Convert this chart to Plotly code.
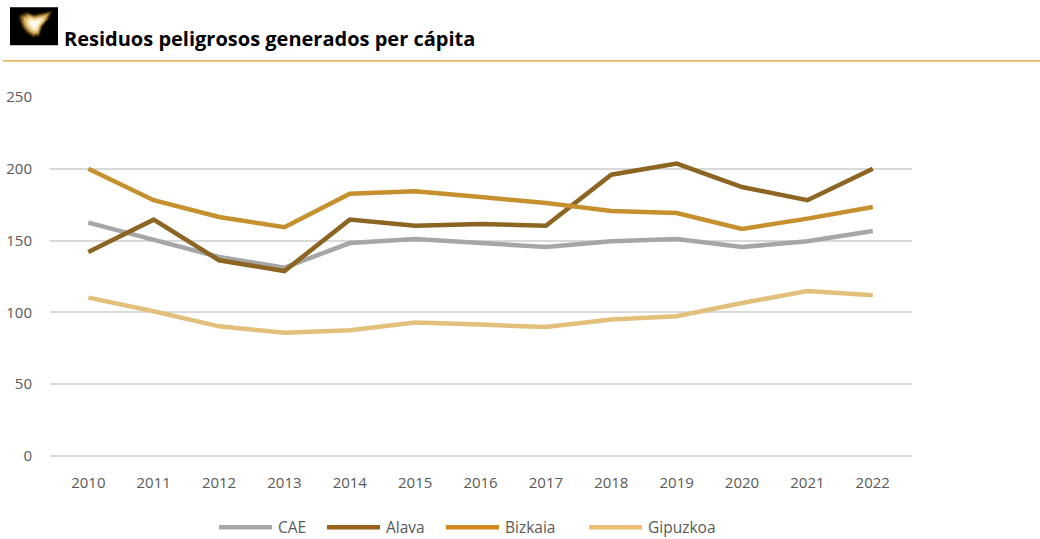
import plotly.graph_objects as go

years = [str(y) for y in range(2010, 2023)]
cae = [162.5, 150.7, 138.6, 131.2, 148.3, 151.1, 148.3, 145.5, 149.5, 151.1, 145.5, 149.5, 156.7]
alava = [142.1, 164.6, 136.3, 128.8, 164.6, 160.4, 161.6, 160.4, 195.9, 203.6, 187.3, 178.1, 200.1]
bizkaia = [200.1, 178.1, 166.4, 159.3, 182.7, 184.3, 180.4, 176.2, 170.6, 169.2, 158.1, 165.3, 173.4]
gipuzkoa = [110.3, 100.8, 90.3, 85.9, 87.5, 92.9, 91.5, 89.8, 95.0, 97.3, 106.5, 114.9, 111.9]

series_names = ["CAE", "Alava", "Bizkaia", "Gipuzkoa"]
series_values = [cae, alava, bizkaia, gipuzkoa]
line_colors = ["#A6A6A6", "#8B6521", "#C6902E", "#E2C07C"]
key_colors = ["#A5A8AB", "#99611A", "#D2861E", "#EDBD72"]

W, H = 1040, 539
L, R, T, B = 50, 912, 96.7, 455.7


def px(x):
    return (x - L) / (R - L)


def py(y):
    return (B - y) / (B - T)


fig = go.Figure()
for name, vals, col in zip(series_names, series_values, line_colors):
    fig.add_trace(go.Scatter(
        x=years, y=vals, mode="lines", name=name, showlegend=False,
        line=dict(color=col, width=4.5), hoverinfo="x+y+name",
    ))

shapes = []
annotations = []

# title rule
shapes.append(dict(type="line", xref="paper", yref="paper",
                   x0=px(3), x1=px(1040), y0=py(60.5), y1=py(60.5),
                   line=dict(color="#DE9B2C", width=1.3)))
# logo tile
shapes.append(dict(type="rect", xref="paper", yref="paper",
                   x0=px(10), x1=px(58), y0=py(45), y1=py(7),
                   fillcolor="#000000", line=dict(width=0)))


def blob(points, color, opacity, cx=35, cy=24, k=1.0):
    pts = [(cx + (x - cx) * k, cy + (y - cy) * k) for x, y in points]
    d = "M " + " L ".join(f"{px(x):.5f},{py(y):.5f}" for x, y in pts) + " Z"
    return dict(type="path", xref="paper", yref="paper", path=d,
                fillcolor=color, opacity=opacity, line=dict(width=0))


emblem = [(20, 16), (27, 12.5), (34, 15), (44, 13), (51, 11.5), (48, 19),
          (42, 26), (39, 35), (33, 36), (27, 32), (23, 27), (21, 22)]
for k, col, op in [(1.12, "#4A3208", 0.5), (1.0, "#8A6424", 0.6),
                   (0.88, "#C9A050", 0.7), (0.74, "#EBCB86", 0.8),
                   (0.55, "#FBEBC2", 0.85), (0.35, "#FFFBEE", 0.9)]:
    shapes.append(blob(emblem, col, op, k=k))

annotations.append(dict(
    text="<b>Residuos peligrosos generados per cápita</b>",
    xref="paper", yref="paper", x=px(62), y=py(38.5),
    xanchor="left", yanchor="middle", showarrow=False,
    font=dict(family="Open Sans", size=20, color="#000000"),
))

# series key below the plot
key_starts = [219, 327, 446, 589]
key_y = 527
for name, col, x0 in zip(series_names, key_colors, key_starts):
    shapes.append(dict(type="line", xref="paper", yref="paper",
                       x0=px(x0), x1=px(x0 + 53), y0=py(key_y), y1=py(key_y),
                       line=dict(color=col, width=4.5)))
    annotations.append(dict(
        text=name, xref="paper", yref="paper", x=px(x0 + 57), y=py(key_y),
        xanchor="left", yanchor="middle", showarrow=False,
        font=dict(family="Open Sans", size=15.5, color="#595959"),
    ))

fig.update_layout(
    width=W, height=H,
    margin=dict(l=L, r=W - R, t=T, b=H - B, autoexpand=False),
    paper_bgcolor="white", plot_bgcolor="white",
    font=dict(family="Open Sans", color="#595959", size=15),
    shapes=shapes,
    annotations=annotations,
    showlegend=False,
    xaxis=dict(
        type="category", range=[-0.586, 12.6], showgrid=False,
        showline=False, zeroline=False, ticks="",
        tickfont=dict(family="Open Sans", size=15, color="#595959"),
        ticklabelstandoff=16,
    ),
    yaxis=dict(
        range=[0, 250], tickvals=[0, 50, 100, 150, 200, 250],
        showgrid=True, gridcolor="#D9D9D9", gridwidth=1.5,
        zeroline=True, zerolinecolor="#D9D9D9", zerolinewidth=1.5,
        showline=False, ticks="",
        tickfont=dict(family="Open Sans", size=15, color="#595959"),
        ticklabelstandoff=17,
    ),
)

fig.write_html("out.html")
